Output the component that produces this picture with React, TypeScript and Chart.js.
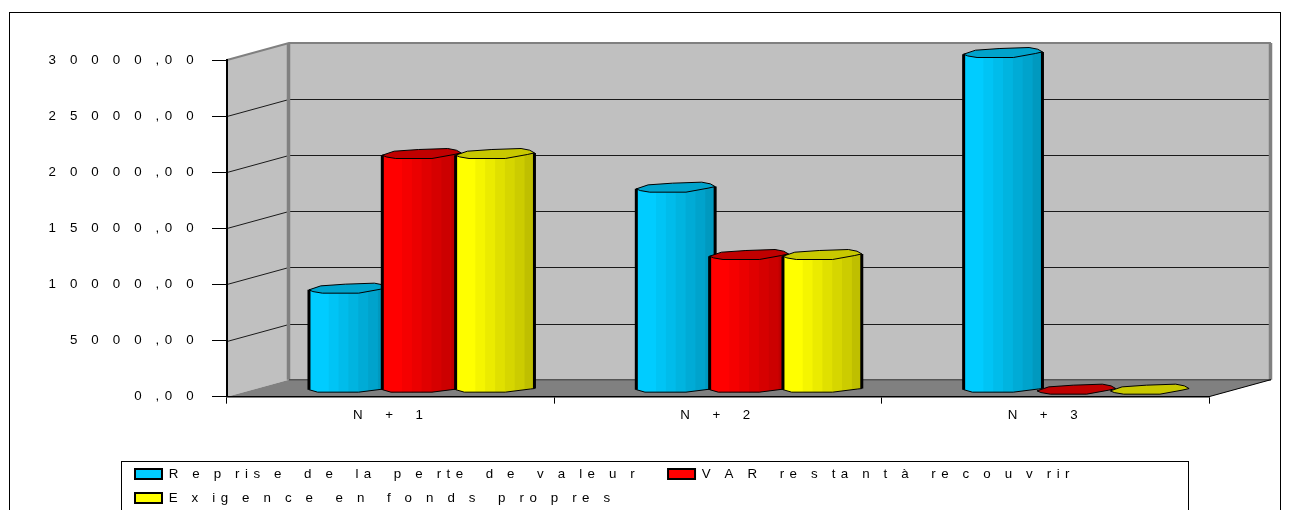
import { useEffect, useRef } from "react";
import { Chart, registerables } from "chart.js";

Chart.register(...registerables);

// Labels are written with the wide spacing they are displayed with.
const categories = ["N  +  1", "N  +  2", "N  +  3"];
const seriesNames = [
  "R e p ris e  d e  la  p e rte  d e  v a le u r  ",
  "V A R  re s ta n t à  re c o u v rir",
  "E x ig e n c e  e n  f o n d s  p ro p re s",
];
const repriseValues = [9000, 18000, 30000];
const varValues = [21000, 12000, 0];
const exigenceValues = [21000, 12000, 0];
const yTicks: Record<number, string> = {
  0: "0 ,0 0",
  5000: "5 0 0 0 ,0 0",
  10000: "1 0 0 0 0 ,0 0",
  15000: "1 5 0 0 0 ,0 0",
  20000: "2 0 0 0 0 ,0 0",
  25000: "2 5 0 0 0 ,0 0",
  30000: "3 0 0 0 0 ,0 0",
};
const seriesColors = ["#00CCFF", "#FF0000", "#FFFF00"];
const topColors = ["#00A3CC", "#C00000", "#C8C800"];

const WALL = "#C0C0C0";
const FLOOR = "#808080";
const FONT = '"Liberation Sans", Arial, sans-serif';
const DEPTH_X = 62;
const DEPTH_Y = 17;
const BAND_SHADES = [1, 1, 0.96, 0.92, 0.88, 0.84, 0.8, 0.75];
const LEGEND_PADDING = 10.67;

// Outline of a cylinder's cap, as [fraction of width, px from the reference level].
const CAP = [
  [0, 0], [0.15, -4], [0.46, -5.7], [0.83, -6.7], [0.94, -5], [1, -2.3],
  [0.91, -0.7], [0.63, 3.3], [0.17, 3.3], [0.05, 1.7],
];
// Lower rim of a cylinder, same convention, left to right.
const RIM = [[0, -0.7], [0.11, 1.8], [0.63, 1.8], [0.95, -1.4], [1, -1.8]];

function shade(hex: string, k: number) {
  const n = parseInt(hex.slice(1), 16);
  const c = [(n >> 16) & 255, (n >> 8) & 255, n & 255].map((v) => Math.round(v * k));
  return `rgb(${c[0]},${c[1]},${c[2]})`;
}

function setSpacing(ctx: any) {
  ctx.letterSpacing = "5.45px";
  ctx.wordSpacing = "-0.6px";
  ctx.fontKerning = "none";
}

function tracePoly(ctx: any, pts: number[][]) {
  ctx.beginPath();
  pts.forEach(([x, y], i) => (i ? ctx.lineTo(x, y) : ctx.moveTo(x, y)));
  ctx.closePath();
}

function drawCylinder(ctx: any, bar: any, color: string, top: string) {
  const left = bar.x - bar.width / 2 + 28.3;
  const w = bar.width + 5.5;
  const yTop = bar.y - 5.8;
  const yBase = bar.base - 5.8;
  const capPts = CAP.map(([f, d]) => [left + f * w, yTop + d]);

  if (yBase - yTop > 1) {
    const body = [
      [left, yTop],
      [left + w, yTop - 2.3],
      ...RIM.slice().reverse().map(([f, d]) => [left + f * w, yBase + d]),
    ];
    ctx.save();
    tracePoly(ctx, body);
    ctx.clip();
    const bw = w / BAND_SHADES.length;
    BAND_SHADES.forEach((k, i) => {
      ctx.fillStyle = shade(color, k);
      ctx.fillRect(left + i * bw, yTop - 8, bw + 1, yBase - yTop + 16);
    });
    ctx.restore();
    ctx.strokeStyle = "#000";
    ctx.lineWidth = 1;
    tracePoly(ctx, body);
    ctx.stroke();
    ctx.lineWidth = 3;
    ctx.beginPath();
    ctx.moveTo(left, yTop);
    ctx.lineTo(left, yBase - 0.7);
    ctx.moveTo(left + w, yTop - 2.3);
    ctx.lineTo(left + w, yBase - 1.8);
    ctx.stroke();
  }
  ctx.fillStyle = top;
  ctx.strokeStyle = "#000";
  ctx.lineWidth = 1;
  tracePoly(ctx, capPts);
  ctx.fill();
  ctx.stroke();
}

const scenePlugin = {
  id: "scene",
  beforeLayout(chart: any) {
    setSpacing(chart.ctx);
  },
  afterLayout(chart: any) {
    // The key sits in its own framed box, below and wider than the plot.
    const legend = chart.legend;
    const w = legend.right - legend.left;
    legend.left = 135 - LEGEND_PADDING;
    legend.right = legend.left + w;
    legend.top = 456.66;
    legend.bottom = legend.top + legend.height;
    legend.adjustHitBoxes();
  },
  beforeDraw(chart: any) {
    const { ctx, chartArea: a, scales } = chart;
    setSpacing(ctx);
    ctx.save();
    ctx.fillStyle = "#fff";
    ctx.fillRect(0, 0, chart.width, chart.height);
    ctx.strokeStyle = "#000";
    ctx.lineWidth = 1;
    ctx.strokeRect(9.5, 12.5, 1271, 520);
    ctx.strokeRect(121.5, 461.5, 1067, 70);

    const { left: l, right: r, top: t, bottom: b } = a;
    // Side wall, back wall and floor of the box.
    ctx.fillStyle = WALL;
    tracePoly(ctx, [[l, t], [l + DEPTH_X, t - DEPTH_Y], [l + DEPTH_X, b - DEPTH_Y], [l, b]]);
    ctx.fill();
    ctx.fillRect(l + DEPTH_X, t - DEPTH_Y, r - l, b - t);
    ctx.fillStyle = FLOOR;
    tracePoly(ctx, [[l, b], [l + DEPTH_X, b - DEPTH_Y], [r + DEPTH_X, b - DEPTH_Y], [r, b]]);
    ctx.fill();

    // Grid lines run along the side wall and across the back wall.
    const y = scales.y;
    ctx.strokeStyle = "#1a1a1a";
    ctx.lineWidth = 1;
    Object.keys(yTicks).map(Number).forEach((v) => {
      if (v === 0 || v === 30000) return;
      const py = Math.round(y.getPixelForValue(v)) + 0.5;
      ctx.beginPath();
      ctx.moveTo(l, py);
      ctx.lineTo(l + DEPTH_X, py - DEPTH_Y);
      ctx.lineTo(r + DEPTH_X, py - DEPTH_Y);
      ctx.stroke();
    });

    // Wall edges.
    ctx.strokeStyle = FLOOR;
    ctx.lineWidth = 2;
    ctx.beginPath();
    ctx.moveTo(l, t);
    ctx.lineTo(l + DEPTH_X, t - DEPTH_Y);
    ctx.lineTo(r + DEPTH_X, t - DEPTH_Y);
    ctx.stroke();
    ctx.lineWidth = 3.5;
    ctx.beginPath();
    ctx.moveTo(l + DEPTH_X - 0.5, t - DEPTH_Y);
    ctx.lineTo(l + DEPTH_X - 0.5, b - DEPTH_Y);
    ctx.moveTo(r + DEPTH_X - 0.5, t - DEPTH_Y);
    ctx.lineTo(r + DEPTH_X - 0.5, b - DEPTH_Y);
    ctx.stroke();
    ctx.strokeStyle = "#555";
    ctx.lineWidth = 1.5;
    ctx.beginPath();
    ctx.moveTo(l + DEPTH_X, b - DEPTH_Y);
    ctx.lineTo(r + DEPTH_X, b - DEPTH_Y);
    ctx.stroke();
    ctx.strokeStyle = "#000";
    ctx.lineWidth = 1;
    ctx.beginPath();
    ctx.moveTo(r, b);
    ctx.lineTo(r + DEPTH_X, b - DEPTH_Y);
    ctx.stroke();
    ctx.restore();
  },
  beforeDatasetsDraw(chart: any) {
    const { ctx } = chart;
    ctx.save();
    chart.data.datasets.forEach((_: any, i: number) => {
      chart.getDatasetMeta(i).data.forEach((bar: any) => {
        drawCylinder(ctx, bar, seriesColors[i], topColors[i]);
      });
    });
    ctx.restore();
    return false;
  },
};

export default function App() {
  const ref = useRef<HTMLCanvasElement>(null);

  useEffect(() => {
    document.body.style.margin = "0";
    const font = { family: FONT, size: 13.33 };
    const chart = new Chart(ref.current!, {
      type: "bar",
      data: {
        labels: categories,
        datasets: [repriseValues, varValues, exigenceValues].map((data, i) => ({
          label: seriesNames[i],
          data,
          backgroundColor: seriesColors[i],
          borderColor: "#000",
          borderWidth: 2,
          categoryPercentage: 0.672,
          barPercentage: 1,
        })),
      },
      options: {
        responsive: false,
        animation: false,
        events: [],
        layout: { padding: { left: 0, top: 60, right: 81, bottom: 0 } },
        plugins: {
          title: { display: false },
          tooltip: { enabled: false },
          legend: {
            display: true,
            position: "bottom",
            align: "start",
            fullSize: false,
            labels: {
              boxWidth: 27,
              boxHeight: 10,
              padding: LEGEND_PADDING,
              color: "#000",
              font,
            },
          },
        },
        scales: {
          x: {
            grid: { drawOnChartArea: false, drawTicks: true, tickLength: 7, color: "#000", offset: true },
            border: { color: "#000", width: 1.5 },
            ticks: { color: "#000", font, padding: 4, maxRotation: 0 },
            afterFit(s: any) {
              s.height = 55.33;
            },
          },
          y: {
            min: 0,
            max: 30000,
            grid: { drawOnChartArea: false, drawTicks: true, tickLength: 15, color: "#000" },
            border: { color: "#000", width: 2 },
            ticks: {
              stepSize: 5000,
              color: "#000",
              font,
              padding: 13,
              callback: (v: any) => yTicks[v as number],
            },
            afterFit(s: any) {
              s.width = 227;
            },
          },
        },
      } as any,
      plugins: [scenePlugin as any],
    });
    return () => chart.destroy();
  }, []);

  return <canvas ref={ref} width={1290} height={510} style={{ display: "block" }} />;
}
